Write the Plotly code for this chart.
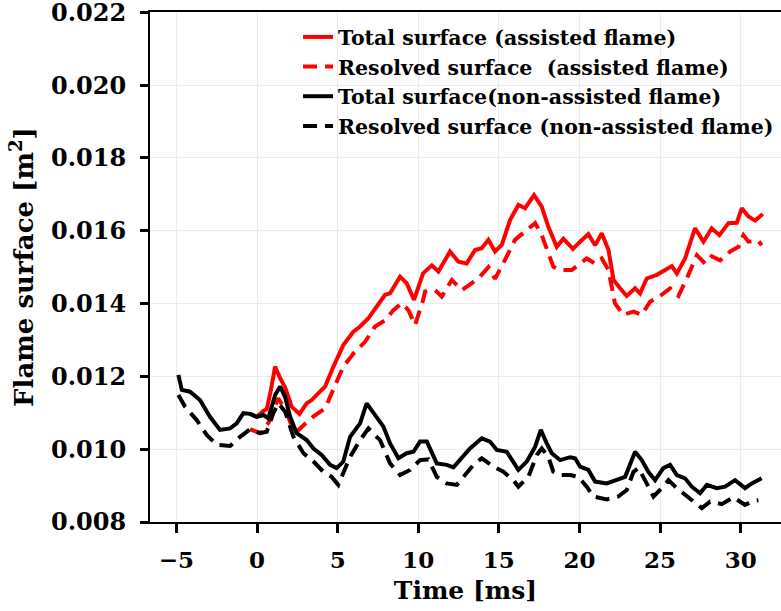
import plotly.graph_objects as go

# Time [ms] and flame surface [m^2]
t_tot_a = [-0.43, -0.02, 0.39, 0.6, 0.85, 1.12, 1.43, 1.74, 2.15, 2.63, 3.08, 3.39, 3.9, 4.22, 4.74,
           5.35, 5.98, 6.39, 6.91, 7.42, 7.94, 8.25, 8.87, 9.28, 9.74, 10.3, 10.84, 11.25, 11.97,
           12.49, 13.0, 13.52, 13.94, 14.35, 14.76, 15.18, 15.7, 16.21, 16.63, 17.18, 17.66, 18.07,
           18.59, 19.0, 19.6, 20.04, 20.55, 20.97, 21.38, 21.8, 22.11, 22.52, 22.93, 23.45, 23.76,
           24.17, 24.8, 25.31, 25.73, 26.04, 26.55, 27.17, 27.69, 28.2, 28.68, 29.24, 29.76, 30.07,
           30.48, 30.89, 31.37]
v_tot_a = [0.01097, 0.01089, 0.01105, 0.0111, 0.0116, 0.01227, 0.01195, 0.0117, 0.01117, 0.01097,
           0.01126, 0.01135, 0.01158, 0.01172, 0.01227, 0.01286, 0.01323, 0.01337, 0.0136, 0.01391,
           0.01424, 0.01428, 0.01474, 0.01456, 0.0141, 0.01483, 0.01505, 0.01488, 0.01543, 0.01515,
           0.0151, 0.01547, 0.01552, 0.01575, 0.01543, 0.01561, 0.0163, 0.01671, 0.01662, 0.01698,
           0.01666, 0.01611, 0.01556, 0.01578, 0.0155, 0.0157, 0.01591, 0.0156, 0.01593, 0.01547,
           0.01465, 0.01442, 0.01421, 0.01442, 0.01428, 0.01469, 0.01479, 0.01492, 0.01503, 0.01483,
           0.01524, 0.01607, 0.0157, 0.01607, 0.01588, 0.01621, 0.01622, 0.01662, 0.01639, 0.01628,
           0.01646]

t_res_a = [-0.43, 0.19, 0.39, 0.8, 1.3, 1.74, 2.1, 2.46, 2.98, 3.5, 4.22, 4.84, 5.35, 5.98, 6.7,
           7.32, 7.94, 8.46, 8.97, 9.39, 9.8, 10.3, 10.42, 11.04, 11.46, 12.08, 12.7, 13.32, 13.83,
           14.35, 14.76, 15.38, 16.0, 16.73, 17.25, 17.66, 17.97, 18.38, 18.8, 19.52, 20.45, 20.97,
           21.38, 21.8, 22.2, 22.72, 23.35, 23.86, 24.38, 25.0, 25.62, 26.14, 26.66, 27.28, 27.79,
           28.2, 28.72, 29.34, 29.86, 30.17, 30.48, 31.1, 31.3]
v_res_a = [0.01055, 0.01044, 0.0105, 0.0108, 0.0114, 0.0111, 0.0107, 0.01048, 0.0107, 0.0109,
           0.01112, 0.01172, 0.01227, 0.01263, 0.01295, 0.01337, 0.01354, 0.01382, 0.01401, 0.01382,
           0.01341, 0.0141, 0.01433, 0.01437, 0.01419, 0.01465, 0.01437, 0.01456, 0.01474, 0.015,
           0.01468, 0.0152, 0.01575, 0.01602, 0.01621, 0.01588, 0.01547, 0.01501, 0.01492, 0.01492,
           0.01524, 0.0151, 0.01524, 0.01492, 0.01401, 0.01369, 0.01378, 0.01369, 0.01405, 0.01421,
           0.01442, 0.01421, 0.01469, 0.01533, 0.0151, 0.0153, 0.01519, 0.01543, 0.01556, 0.01588,
           0.0157, 0.01573, 0.0156]

t_tot_n = [-4.88, -4.67, -4.16, -3.54, -2.92, -2.3, -1.67, -1.26, -0.85, -0.43, -0.02, 0.39, 0.7,
           1.12, 1.43, 1.74, 2.05, 2.46, 3.08, 3.5, 4.01, 4.53, 4.94, 5.35, 5.77, 6.39, 6.8, 7.21,
           7.42, 7.84, 8.25, 8.77, 9.28, 9.7, 10.11, 10.53, 11.15, 11.77, 12.18, 12.59, 13.21, 13.94,
           14.45, 14.87, 15.49, 16.21, 16.73, 17.25, 17.6, 17.97, 18.28, 18.8, 19.42, 19.73, 20.04,
           20.55, 20.97, 21.69, 22.31, 22.83, 23.45, 23.86, 24.27, 24.69, 25.2, 25.62, 26.04, 26.55,
           26.97, 27.48, 27.9, 28.52, 29.03, 29.65, 30.27, 30.69, 31.3]
v_tot_n = [0.01204, 0.01163, 0.01158, 0.01135, 0.01089, 0.01053, 0.01057, 0.01071, 0.01099,
           0.01097, 0.01089, 0.01094, 0.01085, 0.01149, 0.01172, 0.01144, 0.01089, 0.01044, 0.01025,
           0.01002, 0.00984, 0.00957, 0.00948, 0.00966, 0.01034, 0.01071, 0.01126, 0.01099, 0.01089,
           0.01062, 0.01016, 0.00975, 0.00989, 0.00993, 0.01021, 0.01021, 0.00961, 0.00957, 0.0095,
           0.0097, 0.01002, 0.0103, 0.01021, 0.00998, 0.00993, 0.00943, 0.00966, 0.01007, 0.01053,
           0.01016, 0.00989, 0.0097, 0.00978, 0.00975, 0.00952, 0.00943, 0.00911, 0.00906, 0.00915,
           0.00924, 0.00993, 0.0097, 0.00938, 0.00915, 0.00948, 0.00957, 0.00929, 0.0092, 0.00897,
           0.00879, 0.00902, 0.00893, 0.00897, 0.00915, 0.00893, 0.00906, 0.0092]

t_res_n = [-4.88, -4.47, -3.74, -3.12, -2.5, -1.67, -1.05, -0.43, 0.19, 0.6, 1.01, 1.32, 1.74, 2.26,
           2.88, 3.5, 4.11, 4.63, 5.04, 5.35, 5.77, 6.39, 6.91, 7.42, 7.63, 8.25, 8.87, 9.49, 10.11,
           10.63, 11.15, 11.77, 12.39, 12.9, 13.42, 13.94, 14.66, 15.28, 15.9, 16.21, 16.83, 17.35,
           17.66, 18.07, 18.38, 18.8, 19.42, 19.94, 20.45, 20.87, 21.69, 22.41, 22.93, 23.35, 23.66,
           24.17, 24.59, 25.1, 25.52, 26.04, 26.55, 27.07, 27.59, 28.1, 28.83, 29.55, 30.27, 30.79,
           31.1]
v_res_n = [0.01149, 0.01117, 0.0108, 0.01039, 0.01012, 0.01009, 0.01034, 0.01055, 0.01044,
           0.01048, 0.01099, 0.01126, 0.01103, 0.01034, 0.00989, 0.00966, 0.00938, 0.00924, 0.00902,
           0.00934, 0.00979, 0.01025, 0.01057, 0.01034, 0.01025, 0.00961, 0.00929, 0.00943, 0.0097,
           0.00972, 0.00924, 0.00906, 0.00902, 0.00929, 0.00957, 0.00975, 0.00952, 0.00938, 0.00915,
           0.00897, 0.00924, 0.00984, 0.01002, 0.00979, 0.00938, 0.00929, 0.00929, 0.00924, 0.00897,
           0.0087, 0.00862, 0.0087, 0.00888, 0.00938, 0.00948, 0.00906, 0.0087, 0.00893, 0.00915,
           0.00893, 0.00874, 0.00856, 0.00838, 0.00856, 0.00849, 0.00868, 0.00847, 0.00858, 0.0086]

names = ["Total surface (assisted flame)", "Resolved surface  (assisted flame)",
         "Total surface(non-assisted flame)", "Resolved surface (non-assisted flame)"]
x_ticks = [-5, 0, 5, 10, 15, 20, 25, 30]
y_ticks = [0.008, 0.010, 0.012, 0.014, 0.016, 0.018, 0.020, 0.022]

FONT = "DejaVu Serif"
DASH = "14px,8px"

fig = go.Figure()
series = [(t_tot_a, v_tot_a, "#ff0000", "solid"),
          (t_res_a, v_res_a, "#ff0000", DASH),
          (t_tot_n, v_tot_n, "#000000", "solid"),
          (t_res_n, v_res_n, "#000000", DASH)]
for (tx, vy, col, dash), nm in zip(series, names):
    fig.add_trace(go.Scatter(x=tx, y=vy, mode="lines", name=nm,
                             line=dict(color=col, width=4, dash=dash)))

fig.update_layout(
    width=781, height=611,
    margin=dict(l=150, r=0, t=12, b=89),
    paper_bgcolor="white", plot_bgcolor="white",
    font=dict(family=FONT, color="black", size=22, weight="bold"),
    showlegend=True,
    legend=dict(x=0.2346, y=0.99, xanchor="left", yanchor="top",
                bgcolor="rgba(255,255,255,0)",
                font=dict(family=FONT, size=20.5, weight="bold")),
    xaxis=dict(range=[-6.64, 32.5], tickvals=x_ticks, automargin=False,
               ticktext=[("\u2212" + str(-v)) if v < 0 else str(v) for v in x_ticks],
               showgrid=True, gridcolor="#ebebeb", gridwidth=1, zeroline=False,
               showline=True, linecolor="black", linewidth=2, mirror=True,
               ticks="outside", ticklen=9, tickwidth=3, tickcolor="black",
               ticklabelstandoff=7,
               tickfont=dict(size=23, family=FONT, weight="bold"),
               title=dict(text="Time [ms]", font=dict(size=25, family=FONT, weight="bold"),
                          standoff=10)),
    yaxis=dict(range=[0.008, 0.02201], tickvals=y_ticks, automargin=False,
               ticktext=[f"{v:.3f}" for v in y_ticks],
               ticklabeloverflow="allow",
               showgrid=True, gridcolor="#ebebeb", gridwidth=1, zeroline=False,
               showline=True, linecolor="black", linewidth=2, mirror=False,
               ticks="outside", ticklen=8, tickwidth=3, tickcolor="black",
               ticklabelstandoff=9,
               tickfont=dict(size=24, family=FONT, weight="bold"),
               title=dict(text="Flame surface [m<sup>2</sup>]",
                          font=dict(size=26, family=FONT, weight="bold"), standoff=10)),
)

fig.write_html("out.html", config={"displayModeBar": False},
               post_script="document.body.style.margin='0px';")
